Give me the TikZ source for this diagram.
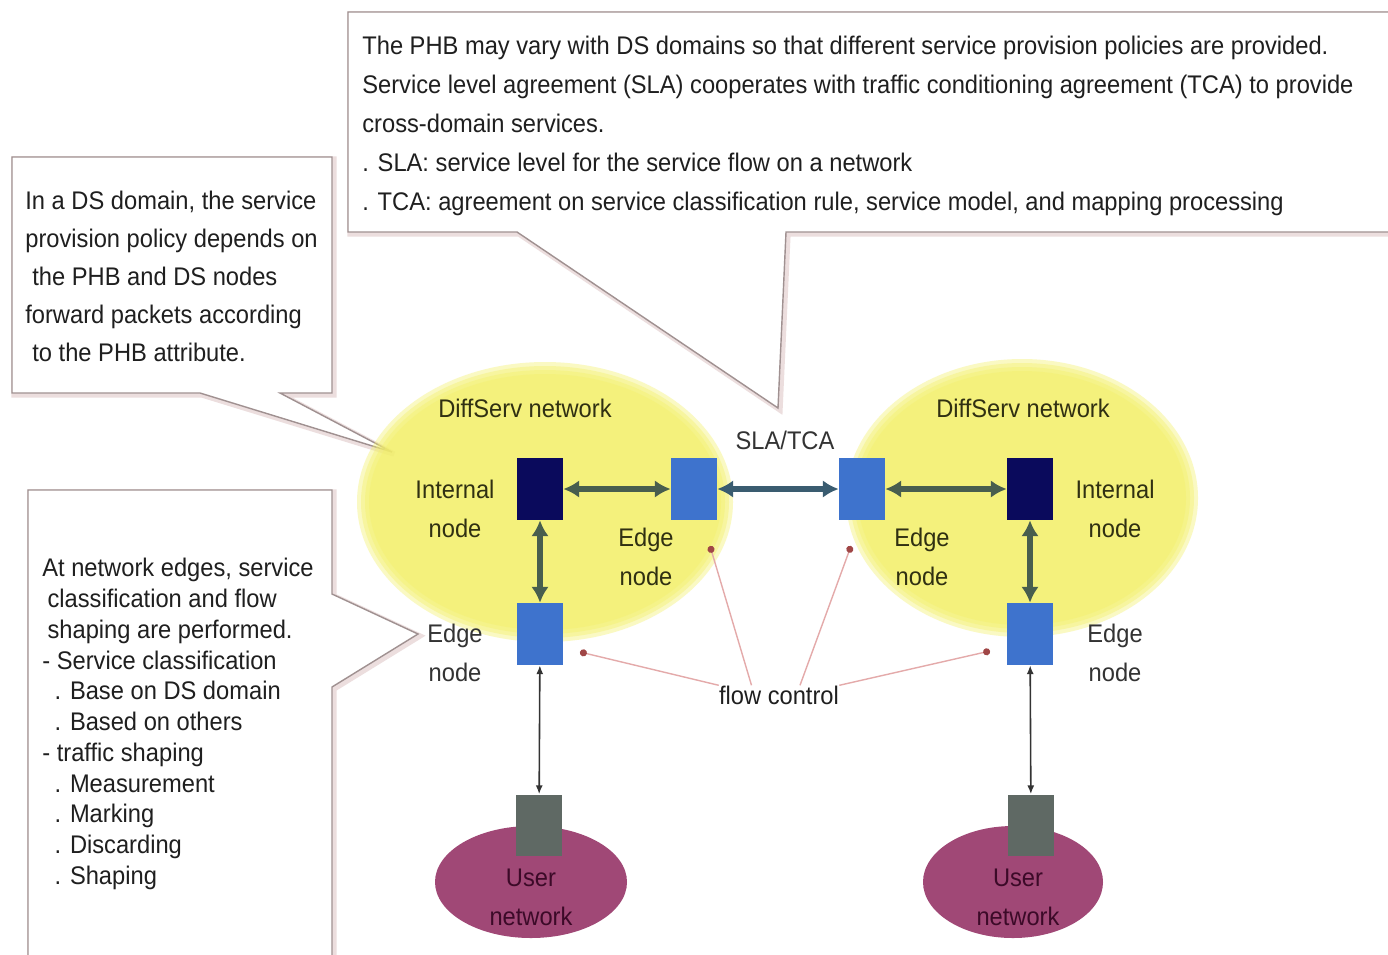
\documentclass[tikz,border=0pt]{standalone}
\usepackage{fontspec}
\setmainfont[FakeStretch=0.93]{Liberation Sans}
\usepackage{xcolor}
\usetikzlibrary{arrows.meta}

\definecolor{dsyellow}{RGB}{243,240,105}
\definecolor{dsnavy}{RGB}{10,10,92}
\definecolor{dsblue}{RGB}{62,115,205}
\definecolor{dslink}{RGB}{72,94,78}
\definecolor{slalink}{RGB}{58,92,112}
\definecolor{usergray}{RGB}{95,105,100}
\definecolor{userplum}{RGB}{160,72,118}
\definecolor{usertext}{RGB}{60,10,40}
\definecolor{framegray}{RGB}{160,145,145}
\definecolor{frameshade}{RGB}{236,222,222}
\definecolor{flowpink}{RGB}{228,170,170}
\definecolor{flowdot}{RGB}{160,70,70}
\definecolor{labeltext}{RGB}{48,48,18}

\tikzset{
  txt/.style={font=\fontsize{14.5}{22.2}\selectfont, text=black!88, inner sep=0pt},
  lbl/.style={txt, align=center, text=labeltext},
  dsbox/.style={minimum width=0.92cm, minimum height=1.24cm, inner sep=0pt},
  callout/.style={fill=white, draw=framegray, line width=0.8pt, line join=miter},
  thicklink/.style={draw=dslink, line width=3.6pt, {Latex[length=9pt,width=10pt]}-{Latex[length=9pt,width=10pt]}},
  userlink/.style={draw=black!80, line width=0.9pt, {Latex[length=5pt,width=4pt]}-{Latex[length=5pt,width=4pt]}},
  flowlink/.style={draw=flowpink, line width=0.8pt, -{Circle[length=4pt,color=flowdot]}}
}

\begin{document}
\begin{tikzpicture}[x=0.02cm, y=-0.02cm]
\useasboundingbox (0,0) rectangle (1388,954);
\clip (0,0) rectangle (1388,954);
\fill[white] (0,0) rectangle (1388,954);

% Callout boxes
\draw[frameshade, line width=3pt, shift={(2,2)}] (348,12) -- (1400,12) -- (1400,232) -- (786,232) -- (778,408) -- (517,232) -- (348,232) -- cycle;
\draw[callout] (348,12) -- (1400,12) -- (1400,232) -- (786,232) -- (778,408) -- (517,232) -- (348,232) -- cycle;
\draw[frameshade, line width=3pt, shift={(2,2)}] (12,157) -- (332,157) -- (332,393) -- (280,393) -- (392,452) -- (200,393) -- (12,393) -- cycle;
\draw[callout] (12,157) -- (332,157) -- (332,393) -- (280,393) -- (392,452) -- (200,393) -- (12,393) -- cycle;
\draw[frameshade, line width=3pt, shift={(2,2)}] (28,490) -- (332,490) -- (332,594) -- (418,634) -- (332,687) -- (332,970) -- (28,970) -- cycle;
\draw[callout] (28,490) -- (332,490) -- (332,594) -- (418,634) -- (332,687) -- (332,970) -- (28,970) -- cycle;

\node[txt, anchor=north west, align=left] (slanote) at (362,36) {The PHB may vary with DS domains so that different service provision policies are provided.\\
Service level agreement (SLA) cooperates with traffic conditioning agreement (TCA) to provide\\
cross-domain services.\\
. SLA: service level for the service flow on a network\\
. TCA: agreement on service classification rule, service model, and mapping processing};

\node[txt, font=\fontsize{14.5}{21.6}\selectfont, anchor=north west, align=left] (phbnote) at (25,191) {In a DS domain, the service\\
provision policy depends on\\
\hspace{4pt}the PHB and DS nodes\\
forward packets according\\
\hspace{4pt}to the PHB attribute.};

\node[txt, font=\fontsize{14.5}{17.5}\selectfont, anchor=north west, align=left] (edgenote) at (42,558) {At network edges, service\\
\hspace{3pt}classification and flow\\
\hspace{3pt}shaping are performed.\\
- Service classification\\
\hspace{7pt}. Base on DS domain\\
\hspace{7pt}. Based on others\\
- traffic shaping\\
\hspace{7pt}. Measurement\\
\hspace{7pt}. Marking\\
\hspace{7pt}. Discarding\\
\hspace{7pt}. Shaping};

% DiffServ domains
\foreach \d in {12,8,4,0} {
  \fill[dsyellow, fill opacity=0.4] (545,502) ellipse ({176+\d} and {128+\d});
  \fill[dsyellow, fill opacity=0.4] (1022,498) ellipse ({164+\d} and {127+\d});
}

% User networks
\fill[userplum] (531,882) ellipse (96 and 56);
\fill[userplum] (1013,882) ellipse (90 and 56);

% Nodes
\node[dsbox, fill=dsnavy] (intL) at (540,489) {};
\node[dsbox, fill=dsblue] (edgeL) at (694,489) {};
\node[dsbox, fill=dsblue] (edgeR) at (862,489) {};
\node[dsbox, fill=dsnavy] (intR) at (1030,489) {};
\node[dsbox, fill=dsblue] (lowL) at (540,634) {};
\node[dsbox, fill=dsblue] (lowR) at (1030,634) {};
\node[dsbox, fill=usergray, minimum height=1.22cm] (userL) at (539,825) {};
\node[dsbox, fill=usergray, minimum height=1.22cm] (userR) at (1031,825) {};

% Links
\draw[thicklink] (intL) -- (edgeL);
\draw[thicklink] (intL) -- (lowL);
\draw[draw=slalink, line width=3.6pt, {Latex[length=9pt,width=10pt]}-{Latex[length=9pt,width=10pt]}] (edgeL) -- (edgeR);
\draw[thicklink] (edgeR) -- (intR);
\draw[thicklink] (intR) -- (lowR);
\draw[userlink] (lowL) -- (userL);
\draw[userlink] (lowR) -- (userR);

% Labels
\node[lbl] (dsLlab) at (525,408) {DiffServ network};
\node[lbl] (dsRlab) at (1023,408) {DiffServ network};
\node[lbl, text=black!80] (slalab) at (785,440) {SLA/TCA};
\node[lbl] (intLlab) at (455,509) {Internal\\node};
\node[lbl] (intRlab) at (1115,509) {Internal\\node};
\node[lbl] (edgeLlab) at (646,557) {Edge\\node};
\node[lbl] (edgeRlab) at (922,557) {Edge\\node};
\node[lbl, text=black!80] (lowLlab) at (455,653) {Edge\\node};
\node[lbl, text=black!80] (lowRlab) at (1115,653) {Edge\\node};
\node[lbl, text=usertext] (userLlab) at (531,897) {User\\network};
\node[lbl, text=usertext] (userRlab) at (1018,897) {User\\network};

% Flow control pointers
\node[txt] (flow) at (779,695) {flow control};
\coordinate (fc1) at (710,546);
\coordinate (fc2) at (851,546);
\coordinate (fc3) at (580,652);
\coordinate (fc4) at (990,651);
\draw[flowlink] ([xshift=-0.55cm]flow.north) -- (fc1);
\draw[flowlink] ([xshift=0.42cm]flow.north) -- (fc2);
\draw[flowlink] (flow.north west) -- (fc3);
\draw[flowlink] (flow.north east) -- (fc4);
\end{tikzpicture}
\end{document}
